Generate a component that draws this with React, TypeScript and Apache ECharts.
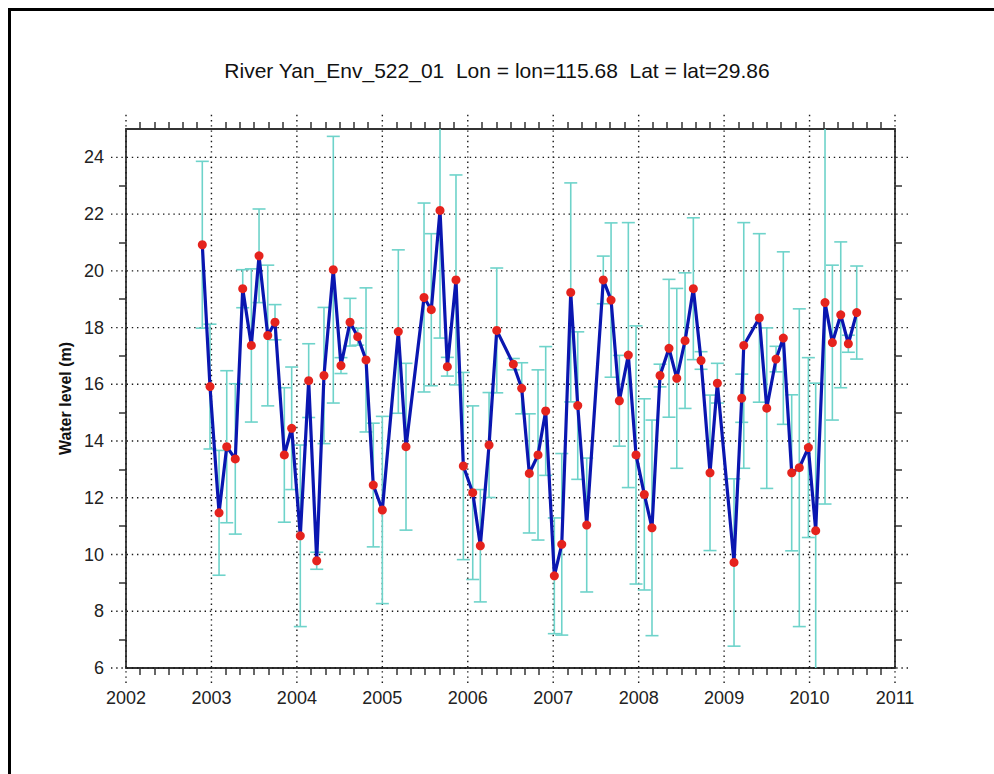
import React, { useEffect, useRef } from 'react';
import * as echarts from 'echarts';

const TITLE = 'River Yan_Env_522_01  Lon = lon=115.68  Lat = lat=29.86';
const Y_NAME = 'Water level (m)';

// decimal-year dates of the altimetry passes
const times = [
  2002.893, 2002.983, 2003.089, 2003.179, 2003.279, 2003.366, 2003.467, 2003.557, 2003.659, 2003.744,
  2003.853, 2003.939, 2004.040, 2004.138, 2004.232, 2004.317, 2004.426, 2004.516, 2004.622, 2004.712,
  2004.809, 2004.894, 2005.000, 2005.187, 2005.277, 2005.488, 2005.573, 2005.675, 2005.761, 2005.862,
  2005.948, 2006.058, 2006.147, 2006.249, 2006.339, 2006.533, 2006.631, 2006.720, 2006.822, 2006.912,
  2007.013, 2007.100, 2007.205, 2007.287, 2007.392, 2007.586, 2007.677, 2007.774, 2007.879, 2007.969,
  2008.066, 2008.156, 2008.250, 2008.355, 2008.446, 2008.543, 2008.640, 2008.730, 2008.835, 2008.921,
  2009.116, 2009.206, 2009.230, 2009.412, 2009.499, 2009.608, 2009.693, 2009.791, 2009.880, 2009.986,
  2010.072, 2010.181, 2010.267, 2010.365, 2010.454, 2010.552,
];

// water level (m)
const levels = [
  20.92, 15.92, 11.47, 13.80, 13.37, 19.37, 17.37, 20.53, 17.72, 18.19,
  13.51, 14.45, 10.66, 16.13, 9.78, 16.31, 20.04, 16.66, 18.19, 17.68,
  16.86, 12.45, 11.57, 17.86, 13.80, 19.06, 18.63, 22.13, 16.62, 19.68,
  13.12, 12.18, 10.31, 13.86, 17.90, 16.71, 15.86, 12.86, 13.51, 15.06,
  9.25, 10.36, 19.24, 15.25, 11.04, 19.68, 18.97, 15.42, 17.03, 13.51,
  12.12, 10.94, 16.31, 17.27, 16.21, 17.54, 19.37, 16.84, 12.88, 16.04,
  9.72, 15.51, 17.37, 18.34, 15.16, 16.89, 17.63, 12.88, 13.06, 13.77,
  10.84, 18.88, 17.47, 18.45, 17.43, 18.53,
];

// half-width of the error bar (m)
const errors = [
  2.94, 2.20, 2.20, 2.68, 2.65, 0.67, 2.70, 1.65, 2.48, 0.62,
  2.37, 2.16, 3.20, 1.30, 0.30, 2.40, 4.70, 0.28, 0.84, 0.30,
  2.54, 2.18, 3.30, 2.88, 2.94, 3.33, 2.68, 4.50, 0.33, 3.70,
  3.30, 3.06, 1.98, 1.85, 2.20, 0.20, 0.90, 2.10, 3.00, 2.27,
  2.04, 3.20, 3.86, 2.60, 2.36, 0.84, 2.72, 1.60, 4.67, 4.55,
  3.37, 3.80, 0.40, 2.43, 3.17, 2.39, 2.50, 0.31, 2.74, 0.70,
  2.95, 0.85, 4.33, 2.97, 2.83, 0.45, 3.04, 2.75, 5.60, 3.17,
  5.20, 7.10, 2.73, 2.57, 0.30, 1.64,
];

const X_MIN = 2002;
const X_MAX = 2011;
const Y_MIN = 6;
const Y_MAX = 25;
const yearTicks = [2002, 2003, 2004, 2005, 2006, 2007, 2008, 2009, 2010, 2011];
const levelTicks = [6, 8, 10, 12, 14, 16, 18, 20, 22, 24];
const levelMinorTicks = [7, 9, 11, 13, 15, 17, 19, 21, 23];

const FONT = 'Liberation Sans, Arial, Helvetica, sans-serif';
const GRID_EXT = 15;

export default function App() {
  const ref = useRef<HTMLDivElement>(null);

  useEffect(() => {
    if (!ref.current) return;
    const chart = echarts.init(ref.current, null, { renderer: 'svg' });

    const pointData = times.map((t, i) => [t, levels[i]]);
    const errData = times.map((t, i) => [t, levels[i], errors[i]]);
    const vGrid = yearTicks.map((y) => [y, Y_MIN]);
    const hGrid = levelTicks.map((v) => [X_MIN, v]);

    const dotted = { stroke: '#1a1a1a', lineWidth: 1.4, lineDash: [1.4, 3.8] };
    const errColor = '#6ed3ca';

    const axisLine = { show: true, lineStyle: { color: '#333', width: 1.8 } };

    const xCommon = {
      type: 'value',
      min: X_MIN,
      max: X_MAX,
      interval: 1,
      axisLine,
      axisTick: { show: false, inside: false },
      minorTick: { show: true, splitNumber: 6, length: 7, lineStyle: { color: '#333', width: 1.5 } },
      splitLine: { show: false },
      minorSplitLine: { show: false },
    };
    const yCommon = {
      type: 'value',
      min: Y_MIN,
      max: Y_MAX,
      interval: 2,
      axisLine,
      axisTick: {
        show: true,
        inside: false,
        length: 7,
        customValues: levelMinorTicks,
        lineStyle: { color: '#333', width: 1.5 },
      },
      splitLine: { show: false },
    };

    chart.setOption({
      animation: false,
      backgroundColor: '#fff',
      title: {
        text: TITLE,
        left: 'center',
        top: 55,
        textStyle: { fontFamily: FONT, fontSize: 21, fontWeight: 'normal', color: '#111' },
      },
      grid: { left: 126, top: 129, right: 99, bottom: 106, outerBoundsMode: 'none', containLabel: false },
      graphic: [
        {
          type: 'rect',
          shape: { x: 9.5, y: 9.5, width: 2000, height: 2000 },
          style: { fill: 'none', stroke: '#000', lineWidth: 3 },
          silent: true,
        },
      ],
      xAxis: [
        {
          ...xCommon,
          position: 'bottom',
          axisLabel: {
            show: true,
            margin: 21,
            fontFamily: FONT,
            fontSize: 18,
            color: '#222',
            formatter: (v: number) => String(Math.round(v)),
          },
        },
        { ...xCommon, position: 'top', axisLabel: { show: false } },
      ],
      yAxis: [
        {
          ...yCommon,
          position: 'left',
          name: Y_NAME,
          nameLocation: 'middle',
          nameRotate: 90,
          nameGap: 50,
          nameTextStyle: { fontFamily: FONT, fontSize: 16, fontWeight: 'bold', color: '#111' },
          axisLabel: {
            show: true,
            margin: 22,
            fontFamily: FONT,
            fontSize: 18,
            color: '#222',
            formatter: (v: number) => (levelTicks.includes(v) ? String(v) : ''),
          },
        },
        { ...yCommon, position: 'right', axisLabel: { show: false } },
      ],
      series: [
        {
          type: 'custom',
          name: 'vgrid',
          data: vGrid,
          encode: { x: 0, y: 1 },
          clip: false,
          silent: true,
          z: 1,
          renderItem: (params: any, api: any) => {
            const x = api.value(0);
            const b = api.coord([x, Y_MIN]);
            const t = api.coord([x, Y_MAX]);
            return {
              type: 'line',
              shape: { x1: b[0], y1: b[1] + GRID_EXT, x2: t[0], y2: t[1] - GRID_EXT },
              style: dotted,
            };
          },
        },
        {
          type: 'custom',
          name: 'hgrid',
          data: hGrid,
          encode: { x: 0, y: 1 },
          clip: false,
          silent: true,
          z: 1,
          renderItem: (params: any, api: any) => {
            const v = api.value(1);
            const l = api.coord([X_MIN, v]);
            const r = api.coord([X_MAX, v]);
            return {
              type: 'line',
              shape: { x1: l[0] - GRID_EXT, y1: l[1], x2: r[0] + GRID_EXT, y2: r[1] },
              style: dotted,
            };
          },
        },
        {
          type: 'custom',
          name: 'errors',
          data: errData,
          encode: { x: 0, y: 1 },
          clip: true,
          silent: true,
          z: 2,
          renderItem: (params: any, api: any) => {
            const x = api.value(0);
            const y = api.value(1);
            const e = api.value(2);
            const hi = api.coord([x, y + e]);
            const lo = api.coord([x, y - e]);
            const hw = 6.5;
            const st = { stroke: errColor, lineWidth: 1.6 };
            return {
              type: 'group',
              children: [
                { type: 'line', shape: { x1: hi[0], y1: hi[1], x2: lo[0], y2: lo[1] }, style: st },
                { type: 'line', shape: { x1: hi[0] - hw, y1: hi[1], x2: hi[0] + hw, y2: hi[1] }, style: st },
                { type: 'line', shape: { x1: lo[0] - hw, y1: lo[1], x2: lo[0] + hw, y2: lo[1] }, style: st },
              ],
            };
          },
        },
        {
          type: 'line',
          name: 'level',
          data: pointData,
          z: 3,
          showSymbol: true,
          symbol: 'circle',
          symbolSize: 9,
          lineStyle: { color: '#0a16b0', width: 3.2 },
          itemStyle: { color: '#e5231d', borderWidth: 0 },
          emphasis: { disabled: true },
        },
      ],
    });

    return () => chart.dispose();
  }, []);

  return (
    <div
      ref={ref}
      style={{ position: 'absolute', left: 0, top: 0, width: 994, height: 774 }}
    />
  );
}
